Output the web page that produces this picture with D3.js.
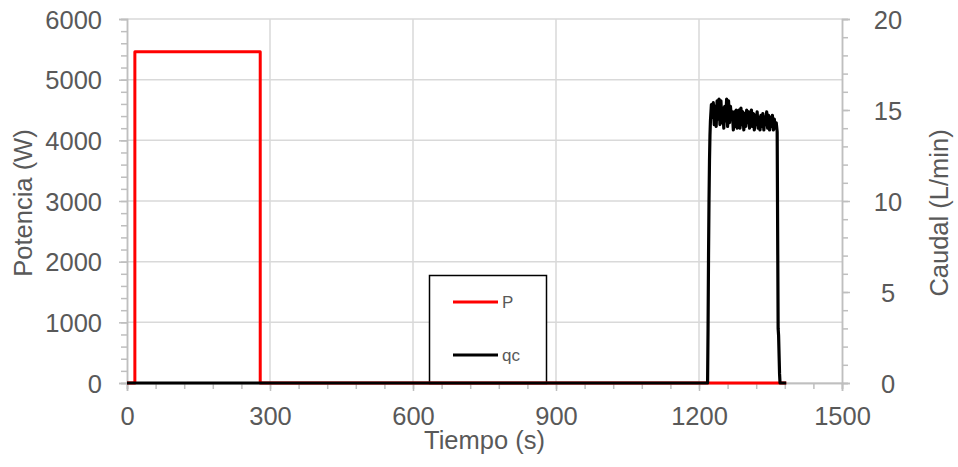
<!DOCTYPE html>
<html>
<head>
<meta charset="utf-8">
<script src="https://cdn.jsdelivr.net/npm/d3@7"></script>
<style>
  html, body { margin: 0; padding: 0; background: #fff; }
  svg { display: block; font-family: "Liberation Sans", Arial, sans-serif; }
</style>
</head>
<body>
<svg id="chart" width="958" height="467"></svg>
<script>
// Power step (W) over time (s)
const pTime  = [0, 16.5, 16.5, 279.5, 279.5, 1383];
const pValue = [0, 0, 5460, 5460, 0, 0];

// Flow rate qc (L/min) over time (s)
const qcTime = [0, 1218, 1219, 1220, 1221, 1222, 1223,
  1224, 1226, 1228, 1230, 1232, 1234, 1236, 1238, 1240, 1242, 1244, 1246, 1248, 1250,
  1252, 1254, 1256, 1258, 1260, 1262, 1264, 1266, 1268, 1270, 1272, 1274, 1276, 1278,
  1280, 1282, 1284, 1286, 1288, 1290, 1292, 1294, 1296, 1298, 1300, 1302, 1304, 1306,
  1308, 1310, 1312, 1314, 1316, 1318, 1320, 1322, 1324, 1326, 1328, 1330, 1332, 1334,
  1336, 1338, 1340, 1342, 1344, 1346, 1348, 1350, 1352, 1354, 1356, 1358, 1360, 1362,
  1364, 1366, 1367, 1369, 1370, 1383];
const qcValue = [0, 0, 3, 7, 10, 12.2, 13.6,
  14.4, 15.3, 14.6, 15.4, 14.2, 15.2, 14.1, 15.5, 14.5, 15.6, 14.2, 15.5, 14.3, 15.1,
  14.0, 15.2, 14.4, 15.6, 14.1, 15.5, 14.3, 15.2, 14.6, 14.9, 13.9, 14.9, 14.1, 15.0,
  14.0, 14.7, 15.0, 14.0, 15.1, 14.2, 14.9, 13.9, 14.8, 14.1, 15.0, 14.3, 14.9, 14.0,
  14.7, 15.0, 14.1, 14.8, 13.9, 14.7, 14.2, 14.9, 14.0, 14.6, 13.9, 14.7, 14.1, 14.8,
  13.9, 14.6, 14.2, 14.9, 14.0, 14.7, 13.9, 14.6, 14.1, 14.7, 13.9, 14.5, 14.0, 14.3,
  13.8, 3.0, 2.6, 0.5, 0, 0];

const xTicks = [0, 300, 600, 900, 1200, 1500];
const yLeftTicks = [0, 1000, 2000, 3000, 4000, 5000, 6000];
const yRightTicks = [0, 5, 10, 15, 20];

const seriesNames = ["P", "qc"];
const seriesColors = ["#ff0000", "#000000"];

const xLabel = "Tiempo (s)";
const yLeftLabel = "Potencia (W)";
const yRightLabel = "Caudal (L/min)";

const svg = d3.select("#chart");
const textColor = "#595959";
const gridColor = "#d9d9d9";
const axisColor = "#bfbfbf";
const fontSize = 25.5;

const x = d3.scaleLinear().domain([0, 1500]).range([127, 842]);
const yL = d3.scaleLinear().domain([0, 6000]).range([383, 19]);
const yR = d3.scaleLinear().domain([0, 20]).range([383, 19]);

svg.append("rect").attr("width", 958).attr("height", 467).attr("fill", "#fff");

// gridlines
const grid = svg.append("g");
grid.selectAll("line.h").data(yLeftTicks).join("line")
  .attr("x1", x(0)).attr("x2", x(1500))
  .attr("y1", d => yL(d)).attr("y2", d => yL(d))
  .attr("stroke", gridColor).attr("stroke-width", 1.5);
grid.selectAll("line.v").data(xTicks.slice(1, -1)).join("line")
  .attr("x1", d => x(d)).attr("x2", d => x(d))
  .attr("y1", yL(0)).attr("y2", yL(6000))
  .attr("stroke", gridColor).attr("stroke-width", 1.5);

function styleAxis(g) {
  g.select(".domain").attr("stroke", axisColor).attr("stroke-width", 1.5);
  g.selectAll(".tick line").attr("stroke", axisColor).attr("stroke-width", 1.5);
  g.selectAll("text").attr("fill", textColor).attr("font-size", fontSize)
    .attr("font-family", "'Liberation Sans', Arial, sans-serif");
}

// minor ticks
const minorLeft = d3.range(0, 6001, 200);
const minorRight = d3.range(0, 21, 1);
const minorX = d3.range(0, 1501, 60);

svg.append("g").attr("transform", `translate(${x(0)},0)`)
  .call(d3.axisLeft(yL).tickValues(minorLeft).tickSize(6).tickFormat(""))
  .call(styleAxis);
svg.append("g").attr("transform", `translate(${x(1500)},0)`)
  .call(d3.axisRight(yR).tickValues(minorRight).tickSize(6).tickFormat(""))
  .call(styleAxis);
svg.append("g").attr("transform", `translate(0,${yL(0)})`)
  .call(d3.axisBottom(x).tickValues(minorX).tickSize(6).tickFormat(""))
  .call(styleAxis);

// major axes
const axL = svg.append("g").attr("transform", `translate(${x(0)},0)`)
  .call(d3.axisLeft(yL).tickValues(yLeftTicks).tickSize(8).tickPadding(17).tickFormat(d3.format("d")))
  .call(styleAxis);
axL.selectAll("text").attr("dy", "0.355em");

const axR = svg.append("g").attr("transform", `translate(${x(1500)},0)`)
  .call(d3.axisRight(yR).tickValues(yRightTicks).tickSize(8).tickPadding(38).tickFormat(d3.format("d")))
  .call(styleAxis);
axR.selectAll("text").attr("text-anchor", "middle").attr("dy", "0.355em");

const axB = svg.append("g").attr("transform", `translate(0,${yL(0)})`)
  .call(d3.axisBottom(x).tickValues(xTicks).tickSize(8).tickFormat(d3.format("d")))
  .call(styleAxis);
axB.selectAll("text").attr("y", 42).attr("dy", 0);

// axis titles
svg.append("text").attr("x", x(750)).attr("y", 449)
  .attr("text-anchor", "middle").attr("fill", textColor).attr("font-size", fontSize)
  .text(xLabel);
svg.append("text").attr("transform", "translate(32,203) rotate(-90)")
  .attr("text-anchor", "middle").attr("fill", textColor).attr("font-size", fontSize)
  .text(yLeftLabel);
svg.append("text").attr("transform", "translate(948,213) rotate(-90)")
  .attr("text-anchor", "middle").attr("fill", textColor).attr("font-size", fontSize)
  .text(yRightLabel);

// legend
const leg = svg.append("g");
leg.append("rect").attr("x", 429.5).attr("y", 275.5).attr("width", 117).attr("height", 108)
  .attr("fill", "#fff").attr("stroke", "#000").attr("stroke-width", 1.5);
const legY = [302, 355];
seriesNames.forEach((name, i) => {
  leg.append("line").attr("x1", 453).attr("x2", 498).attr("y1", legY[i]).attr("y2", legY[i])
    .attr("stroke", seriesColors[i]).attr("stroke-width", 3);
  leg.append("text").attr("x", 502).attr("y", legY[i] + 6)
    .attr("fill", textColor).attr("font-size", 17).text(name);
});

// series
const pLine = d3.line().x((d, i) => x(pTime[i])).y(d => yL(d));
const qLine = d3.line().x((d, i) => x(qcTime[i])).y(d => yR(d));

svg.append("path").attr("d", pLine(pValue))
  .attr("fill", "none").attr("stroke", seriesColors[0]).attr("stroke-width", 3)
  .attr("stroke-linejoin", "round");
svg.append("path").attr("d", qLine(qcValue))
  .attr("fill", "none").attr("stroke", seriesColors[1]).attr("stroke-width", 3.2)
  .attr("stroke-linejoin", "round");
</script>
</body>
</html>
